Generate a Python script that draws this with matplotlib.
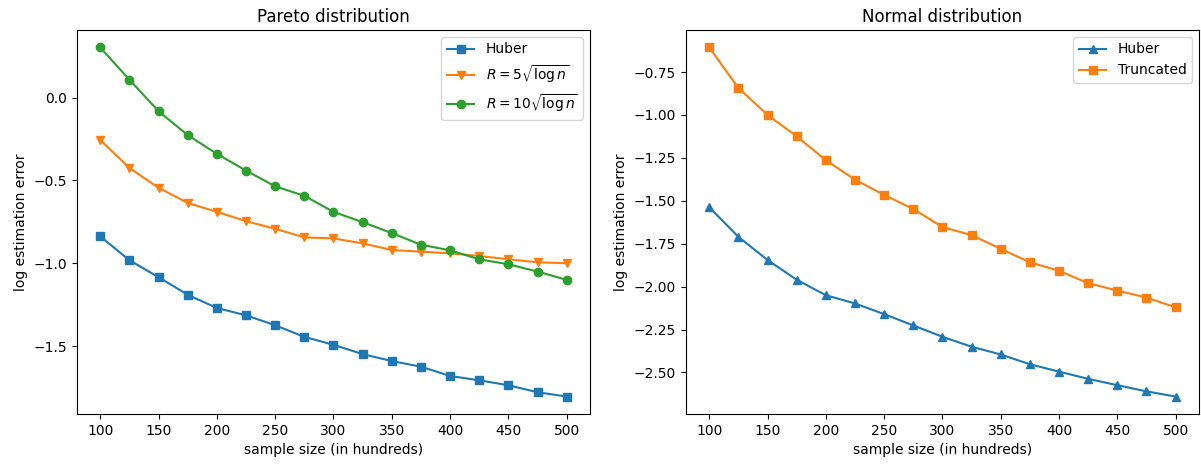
import numpy as np
import matplotlib
matplotlib.use("Agg")
import matplotlib.pyplot as plt

# sample sizes (in hundreds)
sizes = [100, 125, 150, 175, 200, 225, 250, 275, 300, 325, 350, 375, 400, 425, 450, 475, 500]

# Pareto-distributed noise: log estimation error
pareto_huber = [-0.838, -0.982, -1.084, -1.190, -1.270, -1.314, -1.374, -1.444, -1.492,
                -1.548, -1.590, -1.624, -1.680, -1.706, -1.736, -1.778, -1.804]
pareto_r5 = [-0.257, -0.425, -0.545, -0.636, -0.690, -0.746, -0.792, -0.844, -0.850,
             -0.880, -0.920, -0.930, -0.940, -0.956, -0.976, -0.994, -1.000]
pareto_r10 = [0.302, 0.107, -0.083, -0.227, -0.340, -0.441, -0.536, -0.593, -0.690,
              -0.752, -0.818, -0.888, -0.922, -0.976, -1.006, -1.050, -1.100]

# Normal-distributed noise: log estimation error
normal_huber = [-1.538, -1.710, -1.845, -1.960, -2.050, -2.098, -2.160, -2.226, -2.292,
                -2.350, -2.395, -2.452, -2.495, -2.537, -2.574, -2.610, -2.640]
normal_truncated = [-0.607, -0.843, -1.000, -1.125, -1.264, -1.377, -1.466, -1.548, -1.653,
                    -1.700, -1.780, -1.858, -1.908, -1.980, -2.023, -2.064, -2.120]

fig, (ax1, ax2) = plt.subplots(1, 2, figsize=(12.01, 4.68), dpi=100)
fig.subplots_adjust(left=0.0641, right=0.9983, bottom=0.1154, top=0.9359, wspace=0.187)

ax1.plot(sizes, pareto_huber, marker="s", label="Huber")
ax1.plot(sizes, pareto_r5, marker="v", label=r"$R=5\sqrt{\log n}$")
ax1.plot(sizes, pareto_r10, marker="o", label=r"$R=10\sqrt{\log n}$")
ax1.set_title("Pareto distribution")
ax1.set_xlabel("sample size (in hundreds)")
ax1.set_ylabel("log estimation error")
ax1.legend(loc="upper right")

ax2.plot(sizes, normal_huber, marker="^", label="Huber")
ax2.plot(sizes, normal_truncated, marker="s", label="Truncated")
ax2.set_title("Normal distribution")
ax2.set_xlabel("sample size (in hundreds)")
ax2.set_ylabel("log estimation error")
ax2.legend(loc="upper right")

fig.savefig("out.png", dpi=100)
